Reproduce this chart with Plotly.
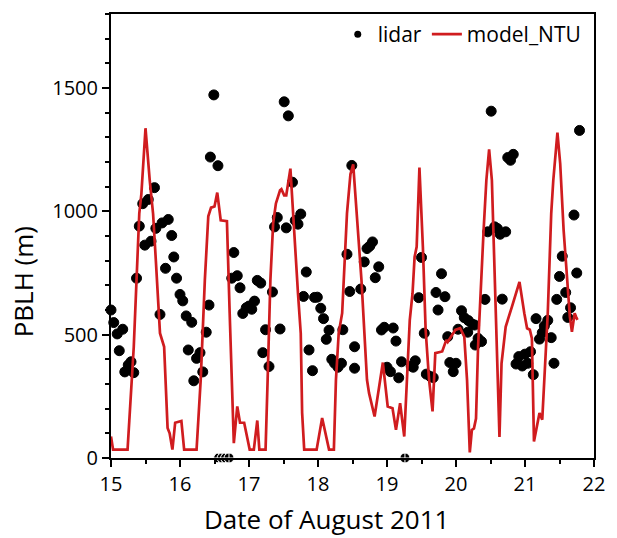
import plotly.graph_objects as go

# Lidar-retrieved PBLH (m) against day of August 2011
lidar_day = [
    15.00, 15.04, 15.09, 15.12, 15.17, 15.20, 15.25, 15.29, 15.33, 15.37,
    15.41, 15.46, 15.49, 15.54, 15.58, 15.63, 15.65, 15.71, 15.74, 15.79,
    15.83, 15.88, 15.91, 15.95, 16.00, 16.04, 16.09, 16.12, 16.17, 16.20,
    16.24, 16.29, 16.33, 16.38, 16.42, 16.44, 16.49, 16.55, 16.56, 16.61,
    16.66, 16.71, 16.75, 16.78, 16.83, 16.87, 16.91, 16.96, 17.00, 17.04,
    17.08, 17.12, 17.17, 17.20, 17.24, 17.29, 17.34, 17.37, 17.41, 17.45,
    17.51, 17.54, 17.57, 17.63, 17.67, 17.71, 17.75, 17.79, 17.83, 17.87,
    17.92, 17.95, 17.99, 18.04, 18.08, 18.12, 18.16, 18.20, 18.24, 18.29,
    18.34, 18.36, 18.42, 18.46, 18.49, 18.53, 18.53, 18.62, 18.67, 18.71,
    18.75, 18.79, 18.83, 18.88, 18.92, 18.96, 19.00, 19.05, 19.09, 19.13,
    19.17, 19.21, 19.26, 19.35, 19.38, 19.41, 19.46, 19.50, 19.54, 19.57,
    19.63, 19.67, 19.71, 19.74, 19.79, 19.84, 19.88, 19.91, 19.96, 20.00,
    20.03, 20.08, 20.12, 20.17, 20.18, 20.24, 20.27, 20.28, 20.32, 20.37,
    20.42, 20.46, 20.51, 20.56, 20.60, 20.64, 20.67, 20.72, 20.75, 20.79,
    20.83, 20.87, 20.91, 20.96, 21.00, 21.04, 21.08, 21.12, 21.16, 21.21,
    21.25, 21.28, 21.33, 21.38, 21.42, 21.46, 21.50, 21.54, 21.59, 21.62,
    21.66, 21.71, 21.75, 21.79,
]
lidar_pblh = [
    600, 549, 503, 435, 522, 349, 377, 390, 346, 729,
    940, 1031, 863, 1048, 879, 1096, 931, 582, 953, 769,
    967, 902, 815, 729, 663, 637, 576, 438, 550, 313,
    404, 427, 349, 510, 620, 1220, 1472, 1185, 0, 0,
    0, 0, 729, 833, 739, 690, 586, 609, 616, 603,
    636, 720, 709, 427, 520, 371, 673, 937, 975, 523,
    1444, 933, 1387, 1118, 963, 948, 989, 655, 754, 438,
    354, 651, 652, 607, 565, 481, 518, 400, 384, 368,
    384, 520, 826, 675, 1186, 451, 364, 685, 795, 849,
    859, 876, 731, 775, 519, 530, 368, 350, 527, 474,
    325, 390, 0, 373, 368, 394, 650, 813, 506, 340,
    330, 326, 671, 600, 747, 654, 492, 387, 350, 384,
    522, 597, 569, 510, 557, 542, 539, 458, 485, 472,
    643, 917, 1406, 937, 930, 907, 644, 917, 1218, 1207,
    1231, 381, 411, 373, 421, 384, 431, 338, 565, 482,
    508, 535, 558, 488, 384, 643, 736, 818, 671, 570,
    609, 985, 750, 1328,
]

# Simulated PBLH (m) from the NTU model
model_day = [
    15.00, 15.03, 15.24, 15.28, 15.33, 15.37, 15.41, 15.44, 15.50, 15.56,
    15.61, 15.65, 15.69, 15.71, 15.77, 15.82, 15.85, 15.89, 15.93, 16.02,
    16.06, 16.24, 16.30, 16.32, 16.36, 16.41, 16.45, 16.50, 16.54, 16.59,
    16.68, 16.72, 16.78, 16.83, 16.87, 16.93, 17.01, 17.07, 17.12, 17.15,
    17.24, 17.27, 17.31, 17.35, 17.39, 17.45, 17.47, 17.51, 17.54, 17.60,
    17.65, 17.71, 17.75, 17.77, 17.80, 17.98, 18.06, 18.16, 18.23, 18.26,
    18.30, 18.35, 18.42, 18.47, 18.51, 18.56, 18.63, 18.71, 18.74, 18.82,
    18.94, 19.01, 19.08, 19.13, 19.19, 19.25, 19.33, 19.37, 19.40, 19.43,
    19.47, 19.52, 19.56, 19.61, 19.66, 19.70, 19.80, 19.86, 19.88, 19.99,
    20.06, 20.12, 20.16, 20.20, 20.23, 20.26, 20.29, 20.32, 20.36, 20.40,
    20.44, 20.48, 20.52, 20.55, 20.59, 20.63, 20.66, 20.72, 20.81, 20.92,
    20.99, 21.03, 21.07, 21.10, 21.13, 21.18, 21.21, 21.25, 21.28, 21.33,
    21.38, 21.41, 21.47, 21.51, 21.56, 21.61, 21.65, 21.68, 21.72, 21.74,
    21.76,
]
model_pblh = [
    87, 34, 34, 200, 451, 721, 992, 1070, 1337, 1130,
    990, 800, 600, 506, 451, 122, 100, 34, 143, 150,
    34, 34, 317, 451, 721, 980, 1015, 1020, 1076, 964,
    960, 587, 60, 209, 143, 143, 34, 34, 152, 34,
    34, 317, 721, 951, 1032, 1085, 1090, 1065, 1065, 1173,
    933, 667, 506, 183, 34, 34, 162, 34, 34, 317,
    506, 587, 992, 1150, 1190, 991, 721, 317, 263, 168,
    387, 209, 202, 114, 222, 87, 559, 667, 815, 856,
    1177, 856, 519, 317, 189, 425, 432, 479, 470, 519,
    526, 492, 317, 23, 114, 120, 160, 451, 721, 923,
    1126, 1251, 1126, 856, 451, 85, 384, 532, 613, 714,
    587, 526, 520, 485, 67, 142, 182, 155, 317, 587,
    991, 1126, 1319, 1194, 923, 721, 573, 512, 587, 573,
    560,
]

FONT = "Open Sans"
RED = "#d01c1f"

# zero retrievals are drawn as crossed circles sitting on the axis
lidar_symbols = ["circle-cross" if v == 0 else "circle" for v in lidar_pblh]
lidar_line_colors = ["white" if v == 0 else "black" for v in lidar_pblh]

fig = go.Figure()
fig.add_trace(go.Scatter(
    x=lidar_day, y=lidar_pblh, mode="markers", name="lidar", showlegend=False,
    marker=dict(color="black", size=10, symbol=lidar_symbols, opacity=1,
                line=dict(color=lidar_line_colors, width=1)),
    cliponaxis=False,
))
fig.add_trace(go.Scatter(
    x=model_day, y=model_pblh, mode="lines", name="model_NTU", showlegend=False,
    line=dict(color=RED, width=2.7),
))
# legend entries
fig.add_trace(go.Scatter(
    x=[None], y=[None], mode="markers", name="lidar",
    marker=dict(color="black", size=7, opacity=1),
))
fig.add_trace(go.Scatter(
    x=[None], y=[None], mode="lines", name="model_NTU",
    line=dict(color=RED, width=2.7),
))

fig.update_layout(
    width=617, height=538,
    margin=dict(l=111, r=13, t=14, b=80),
    plot_bgcolor="white", paper_bgcolor="white",
    font=dict(family=FONT, color="black", size=20),
    legend=dict(orientation="h", x=0.985, xanchor="right", y=1.0, yanchor="top",
                font=dict(size=21, family=FONT), bgcolor="rgba(0,0,0,0)",
                itemwidth=30, tracegroupgap=0),
    annotations=[
        dict(text="Date of August 2011", xref="paper", yref="paper",
             x=0.447, y=-0.137, xanchor="center", yanchor="middle",
             showarrow=False, font=dict(size=26, family=FONT)),
        dict(text="PBLH (m)", xref="paper", yref="paper", textangle=-90,
             x=-0.183, y=0.397, xanchor="center", yanchor="middle",
             showarrow=False, font=dict(size=26, family=FONT)),
    ],
)
fig.update_xaxes(
    range=[15, 22], dtick=1, tick0=15, showgrid=False, zeroline=False,
    showline=True, linecolor="black", linewidth=2, mirror=True,
    ticks="outside", ticklen=7, tickwidth=2, tickcolor="black",
    tickfont=dict(size=20, family=FONT),
    minor=dict(dtick=0.5, ticks="outside", ticklen=4, tickwidth=1.5, tickcolor="black"),
)
fig.update_yaxes(
    range=[0, 1800], dtick=500, tick0=0, showgrid=False, zeroline=False,
    showline=True, linecolor="black", linewidth=2, mirror=True,
    ticks="outside", ticklen=7, tickwidth=2, tickcolor="black",
    tickfont=dict(size=20, family=FONT),
    minor=dict(dtick=100, ticks="outside", ticklen=4, tickwidth=1.5, tickcolor="black"),
)

fig.write_html("out.html")
